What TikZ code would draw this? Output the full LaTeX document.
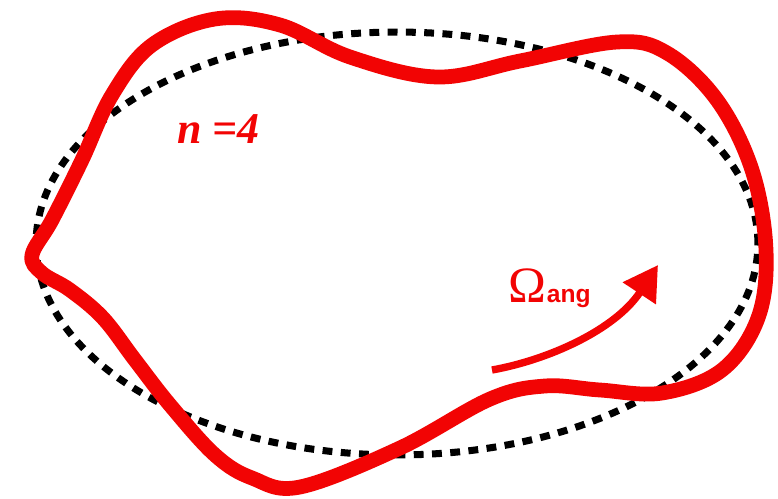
\documentclass[tikz,border=0pt]{standalone}
\usepackage{fontspec}
\setmainfont{Liberation Serif}
\newfontfamily\labelsans{Liberation Sans}
\usetikzlibrary{arrows.meta}
\definecolor{modecolor}{RGB}{242,4,4}

\begin{document}
\begin{tikzpicture}[
    x=0.02cm, y=-0.02cm,
    refellipse/.style={draw=black, line width=4pt, dash pattern=on 5.6pt off 4.8pt},
    modecurve/.style={draw=modecolor, line width=8.4pt, line join=round},
    rotarrow/.style={draw=modecolor, line width=4.2pt, -{Triangle[length=0.68cm, width=0.76cm]}},
    modelabel/.style={text=modecolor, inner sep=0pt, anchor=base west},
]
    \useasboundingbox (0,0) rectangle (778,498);
    % Unperturbed ellipse
    \draw[refellipse] (397,243.5) ellipse [x radius=7.22cm, y radius=4.23cm];
    % Perturbed surface
    \draw[modecurve] plot[smooth cycle, tension=0.6] coordinates {
        (32,255) (52,220) (82,160) (112,95) (152,45) (215,19) (280,25)
        (350,57) (437,77) (520,61) (617,42) (667,53) (717,100) (752,170)
        (766,250) (758,318) (722,370) (662,393) (600,390) (545,386)
        (490,399) (400,448) (300,487) (252,478) (215,455) (170,405)
        (135,360) (103,318) (70,290) (42,273)};
    % Rotation arrow
    \coordinate (arrowtail) at (492,370);
    \coordinate (arrowtip) at (658,265);
    \draw[rotarrow] (arrowtail) .. controls (548,360) and (615,330) .. (arrowtip);
    % Labels
    \node[modelabel, font=\bfseries\itshape\fontsize{25}{25}\selectfont] (modeno) at (177,143) {n =4};
    \node[modelabel, font=\fontsize{29}{29}\selectfont] (omega) at (508,302) {Ω};
    \node[modelabel, font=\labelsans\bfseries\fontsize{14}{14}\selectfont] (ang) at (omega.base east) {ang};
\end{tikzpicture}
\end{document}
